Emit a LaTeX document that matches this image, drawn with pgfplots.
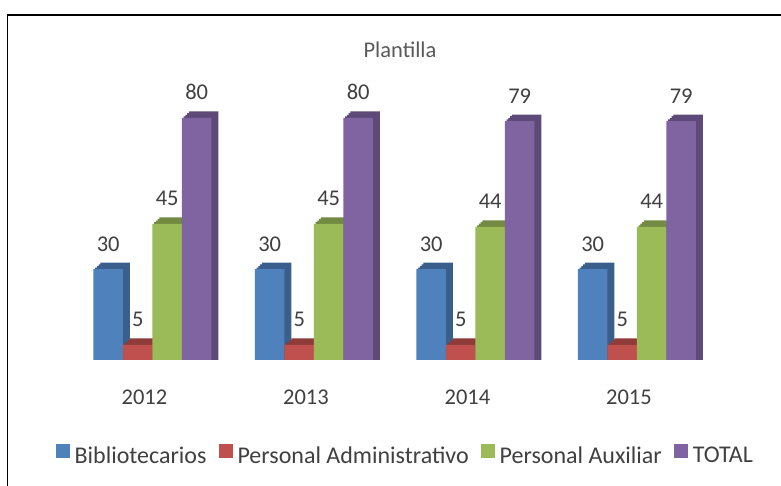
\documentclass[border=0pt]{standalone}
\usepackage{pgfplots}
\pgfplotsset{compat=1.18}
\usepackage{pgfplotstable}
\usepackage{fontspec}
\setmainfont{Carlito}
\definecolor{c1}{HTML}{4F81BD}\definecolor{c1d}{HTML}{3A5F8C}
\definecolor{c2}{HTML}{C0504D}\definecolor{c2d}{HTML}{8E3B39}
\definecolor{c3}{HTML}{9BBB59}\definecolor{c3d}{HTML}{728A41}
\definecolor{c4}{HTML}{8064A2}\definecolor{c4d}{HTML}{5E4A78}
\definecolor{txt}{HTML}{404040}
\definecolor{ttl}{HTML}{595959}

\pgfplotstableread{
x v
0 30
1 30
2 30
3 30
}\bib
\pgfplotstableread{
x v
0 5
1 5
2 5
3 5
}\adm
\pgfplotstableread{
x v
0 45
1 45
2 44
3 44
}\aux
\pgfplotstableread{
x v
0 80
1 80
2 79
3 79
}\tot

\pgfplotsset{
  sq/.style={legend image code/.code={\fill[#1] (0pt,-3pt) rectangle (14pt,11pt);}},
  front/.style={ybar, bar width=29.5pt, draw=none, bar shift=#1, nodes near coords,
     every node near coord/.append style={anchor=base, xshift=#1, yshift=18pt, inner sep=0pt, font=\fontsize{22.5}{27}\selectfont, text=txt}},
  side/.style={ybar, bar width=29.5pt, draw=none, forget plot},
}

\begin{document}
\begin{tikzpicture}
\path[use as bounding box] (0,0) rectangle (781pt,486pt);
\fill[white] (0,0) rectangle (781pt,486pt);
\draw[line width=1.3pt] (7.5pt,0pt) -- (7.5pt,471pt) -- (781pt,471pt);
\node[anchor=base, font=\fontsize{22.5}{27}\selectfont, text=ttl] at (400pt,428.3pt) {Plantilla};
\begin{axis}[
  at={(39.5pt,126pt)}, anchor=south west,
  x=161.5pt, y=3.025pt,
  xmin=-0.65, xmax=3.65, ymin=0, ymax=100,
  clip=false,
  axis line style={draw=none},
  major tick length=0pt,
  ytick=\empty,
  xtick={0,1,2,3},
  xticklabels={2012,2013,2014,2015},
  xticklabel style={anchor=base, yshift=-45pt, font=\fontsize{22.5}{27}\selectfont, text=txt},
  /pgf/number format/assume math mode=true,
  legend columns=4,
  legend style={draw=none, fill=none, at={(0.526,-0.314)}, anchor=center,
     font=\fontsize{24}{28}\selectfont, text=txt,
     nodes={inner sep=1pt},
     /tikz/every odd column/.append style={column sep=4pt},
     /tikz/every even column/.append style={column sep=11pt}},
]
% Bibliotecarios
\addplot[side, fill=c1d, bar shift=-34.5pt] table[x=x, y expr=\thisrow{v}+0.54] {\bib};
\addplot[side, fill=c1d, bar shift=-32.75pt] table[x=x, y expr=\thisrow{v}+1.07] {\bib};
\addplot[side, fill=c1d, bar shift=-31pt] table[x=x, y expr=\thisrow{v}+1.61] {\bib};
\addplot[side, fill=c1d, bar shift=-29.25pt] table[x=x, y expr=\thisrow{v}+2.15] {\bib};
\addplot[front=-36.25pt, fill=c1, sq] table[x=x, y=v] {\bib};
\addlegendentry{Bibliotecarios}
% Personal Administrativo
\addplot[side, fill=c2d, bar shift=-5pt] table[x=x, y expr=\thisrow{v}+0.54] {\adm};
\addplot[side, fill=c2d, bar shift=-3.25pt] table[x=x, y expr=\thisrow{v}+1.07] {\adm};
\addplot[side, fill=c2d, bar shift=-1.5pt] table[x=x, y expr=\thisrow{v}+1.61] {\adm};
\addplot[side, fill=c2d, bar shift=0.25pt] table[x=x, y expr=\thisrow{v}+2.15] {\adm};
\addplot[front=-6.75pt, fill=c2, sq] table[x=x, y=v] {\adm};
\addlegendentry{Personal Administrativo}
% Personal Auxiliar
\addplot[side, fill=c3d, bar shift=24.5pt] table[x=x, y expr=\thisrow{v}+0.54] {\aux};
\addplot[side, fill=c3d, bar shift=26.25pt] table[x=x, y expr=\thisrow{v}+1.07] {\aux};
\addplot[side, fill=c3d, bar shift=28pt] table[x=x, y expr=\thisrow{v}+1.61] {\aux};
\addplot[side, fill=c3d, bar shift=29.75pt] table[x=x, y expr=\thisrow{v}+2.15] {\aux};
\addplot[front=22.75pt, fill=c3, sq] table[x=x, y=v] {\aux};
\addlegendentry{Personal Auxiliar}
% TOTAL
\addplot[side, fill=c4d, bar shift=54pt] table[x=x, y expr=\thisrow{v}+0.54] {\tot};
\addplot[side, fill=c4d, bar shift=55.75pt] table[x=x, y expr=\thisrow{v}+1.07] {\tot};
\addplot[side, fill=c4d, bar shift=57.5pt] table[x=x, y expr=\thisrow{v}+1.61] {\tot};
\addplot[side, fill=c4d, bar shift=59.25pt] table[x=x, y expr=\thisrow{v}+2.15] {\tot};
\addplot[front=52.25pt, fill=c4, sq] table[x=x, y=v] {\tot};
\addlegendentry{TOTAL}
\end{axis}
\end{tikzpicture}
\end{document}
